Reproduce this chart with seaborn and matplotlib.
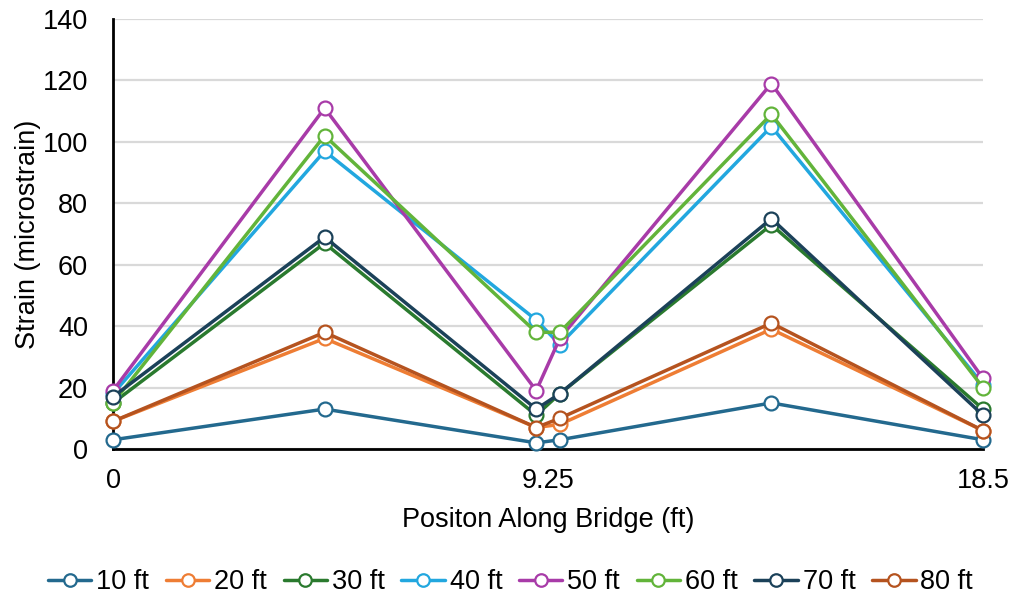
import matplotlib
matplotlib.use("Agg")
import matplotlib.pyplot as plt
from matplotlib.lines import Line2D
import seaborn as sns
import pandas as pd

# Gauge positions along the bridge (ft)
positions = [0, 4.5, 9, 9.5, 14, 18.5]

# Measured strain (microstrain) for each truck location
strain_10ft = [3, 13, 2, 3, 15, 3]
strain_20ft = [9, 36, 7, 8, 39, 6]
strain_30ft = [15, 67, 11, 18, 73, 13]
strain_40ft = [18, 97, 42, 34, 105, 21]
strain_50ft = [19, 111, 19, 36, 119, 23]
strain_60ft = [15, 102, 38, 38, 109, 20]
strain_70ft = [17, 69, 13, 18, 75, 11]
strain_80ft = [9, 38, 7, 10, 41, 6]

series_labels = ["10 ft", "20 ft", "30 ft", "40 ft", "50 ft", "60 ft", "70 ft", "80 ft"]
series_values = [strain_10ft, strain_20ft, strain_30ft, strain_40ft,
                 strain_50ft, strain_60ft, strain_70ft, strain_80ft]

x_ticks = [0, 9.25, 18.5]
x_tick_labels = ["0", "9.25", "18.5"]
y_ticks = [0, 20, 40, 60, 80, 100, 120, 140]

colors = ["#23698E", "#EE7D34", "#2A7A2E", "#22A7DF",
          "#A83BA8", "#62B43A", "#1B4159", "#B5531F"]

rows = []
for label, vals in zip(series_labels, series_values):
    for xv, yv in zip(positions, vals):
        rows.append({"Position": xv, "Strain": yv, "Series": label})
df = pd.DataFrame(rows)

sns.set_theme(style="white")
plt.rcParams["font.family"] = ["Liberation Sans", "DejaVu Sans"]
plt.rcParams["text.color"] = "black"
plt.rcParams["axes.labelcolor"] = "black"

FS = 19.5

fig = plt.figure(figsize=(10.21, 6.13), dpi=100)
ax = fig.add_axes([113 / 1021, 1 - 449 / 613, (983 - 113) / 1021, (449 - 19) / 613])

sns.lineplot(data=df, x="Position", y="Strain", hue="Series",
             hue_order=series_labels, palette=colors, sort=False,
             marker="o", markersize=10, markerfacecolor="white",
             markeredgewidth=1.6, linewidth=2.5, dashes=False,
             legend=False, ax=ax, clip_on=False, zorder=3)

# Outline each marker in its series colour
for line in ax.lines:
    line.set_markeredgecolor(line.get_color())
    line.set_markerfacecolor("white")

ax.set_xlim(0, 18.5)
ax.set_ylim(0, 140)
ax.set_xticks(x_ticks)
ax.set_xticklabels(x_tick_labels)
ax.set_yticks(y_ticks)
ax.tick_params(axis="both", length=0, labelsize=FS, colors="black")
ax.tick_params(axis="y", pad=18)
ax.tick_params(axis="x", pad=14)

ax.grid(axis="y", color="#D9D9D9", linewidth=1.6, zorder=0)
ax.set_axisbelow(True)
for side in ["top", "right"]:
    ax.spines[side].set_visible(False)
for side in ["left", "bottom"]:
    ax.spines[side].set_color("black")
    ax.spines[side].set_linewidth(2)

ax.set_xlabel("Positon Along Bridge (ft)", fontsize=FS, labelpad=9, color="black")
ax.set_ylabel("Strain (microstrain)", fontsize=FS, labelpad=1, color="black")

handles = [Line2D([0], [0], color=c, linewidth=2.5, marker="o", markersize=9,
                  markerfacecolor="white", markeredgecolor=c, markeredgewidth=1.6)
           for c in colors]
fig.legend(handles, series_labels, loc="center", bbox_to_anchor=(0.5, 1 - 582 / 613),
           ncol=8, frameon=False, fontsize=FS, handlelength=1.6,
           handletextpad=0.18, columnspacing=0.62)

fig.savefig("out.png", dpi=100)
